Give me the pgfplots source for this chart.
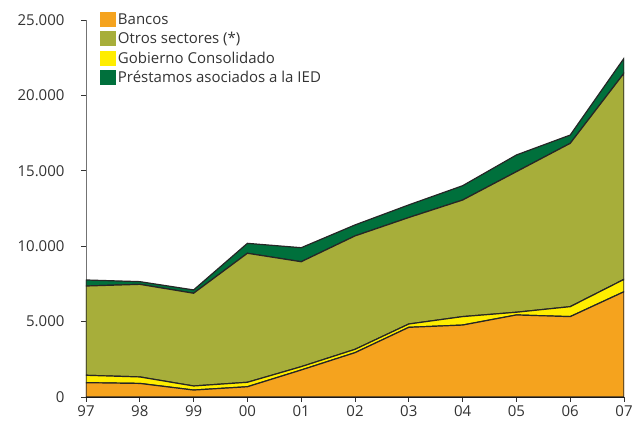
\documentclass[border=0pt]{standalone}
\usepackage{fontspec}
\setmainfont{Open Sans}
\usepackage{pgfplots}
\pgfplotsset{compat=1.18}
\definecolor{bancos}{RGB}{245,163,30}
\definecolor{otros}{RGB}{167,174,58}
\definecolor{gobierno}{RGB}{255,237,0}
\definecolor{ied}{RGB}{0,112,60}
\begin{document}
\begin{tikzpicture}
\begin{axis}[
  width=538pt, height=377pt, scale only axis,
  xmin=0, xmax=10, ymin=0, ymax=25000,
  stack plots=y,
  axis lines*=left,
  x axis line style={black!90, line width=1.6pt},
  y axis line style={black!55, line width=0.9pt},
  tick align=outside, major tick length=5pt,
  tick style={black!80, line width=0.8pt},
  xtick={0,...,10},
  xticklabels={97,98,99,00,01,02,03,04,05,06,07},
  ytick={0,5000,10000,15000,20000,25000},
  scaled y ticks=false,
  tick label style={font=\fontsize{15}{18}\selectfont, text=black!80},
  yticklabel style={xshift=-13pt, /pgf/number format/.cd, 1000 sep={.}, assume math mode=true},
  legend image code/.code={\fill[#1, draw=none] (0pt,-7.5pt) rectangle (16pt,7.5pt);},
  legend style={at={(rel axis cs:0.02,1.028)}, anchor=north west, draw=none, fill=none,
    font=\fontsize{15}{18}\selectfont, row sep=2.5pt, text=black!80},
  legend cell align=left,
]
\addplot[fill=bancos, draw=black!85, line width=1.2pt, forget plot] coordinates {
  (0,950) (1,900) (2,460) (3,680) (4,1790) (5,2940) (6,4620) (7,4770) (8,5440) (9,5330) (10,6980)} \closedcycle;
\addplot[fill=gobierno, draw=black!85, line width=1.2pt, forget plot] coordinates {
  (0,490) (1,430) (2,270) (3,295) (4,220) (5,220) (6,220) (7,560) (8,180) (9,660) (10,820)} \closedcycle;
\addplot[fill=otros, draw=black!85, line width=1.2pt, forget plot] coordinates {
  (0,5920) (1,6140) (2,6150) (3,8555) (4,6960) (5,7520) (6,7060) (7,7730) (8,9320) (9,10830) (10,13670)} \closedcycle;
\addplot[fill=ied, draw=black!85, line width=1.2pt, forget plot] coordinates {
  (0,400) (1,180) (2,220) (3,660) (4,930) (5,730) (6,840) (7,950) (8,1110) (9,550) (10,990)} \closedcycle;
\addlegendimage{fill=bancos, draw=none}
\addlegendentry{Bancos}
\addlegendimage{fill=otros, draw=none}
\addlegendentry{Otros sectores (*)}
\addlegendimage{fill=gobierno, draw=none}
\addlegendentry{Gobierno Consolidado}
\addlegendimage{fill=ied, draw=none}
\addlegendentry{Préstamos asociados a la IED}
\end{axis}
\pgfresetboundingbox
\path (-86pt,-25pt) rectangle (546pt,397pt);
\end{tikzpicture}
\end{document}
